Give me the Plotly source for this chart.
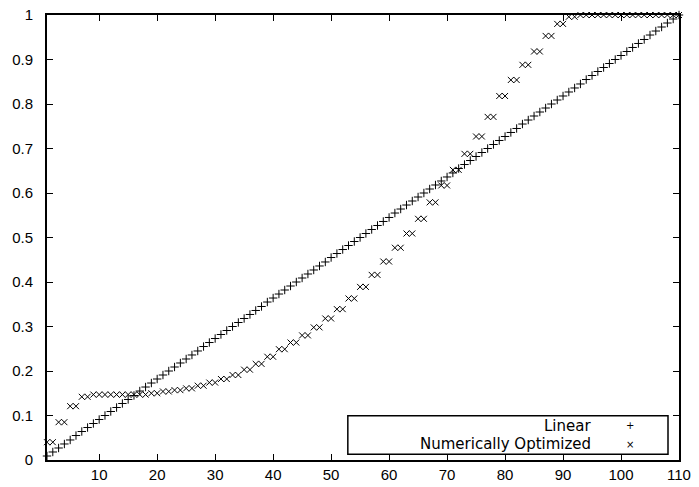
import plotly.graph_objects as go

x_values = list(range(1, 111))

linear_values = [
    0.009, 0.018, 0.027, 0.036, 0.045, 0.055, 0.064, 0.073, 0.082, 0.091,
    0.100, 0.109, 0.118, 0.127, 0.136, 0.145, 0.155, 0.164, 0.173, 0.182,
    0.191, 0.200, 0.209, 0.218, 0.227, 0.236, 0.245, 0.255, 0.264, 0.273,
    0.282, 0.291, 0.300, 0.309, 0.318, 0.327, 0.336, 0.345, 0.355, 0.364,
    0.373, 0.382, 0.391, 0.400, 0.409, 0.418, 0.427, 0.436, 0.445, 0.455,
    0.464, 0.473, 0.482, 0.491, 0.500, 0.509, 0.518, 0.527, 0.536, 0.545,
    0.555, 0.564, 0.573, 0.582, 0.591, 0.600, 0.609, 0.618, 0.627, 0.636,
    0.645, 0.655, 0.664, 0.673, 0.682, 0.691, 0.700, 0.709, 0.718, 0.727,
    0.736, 0.745, 0.755, 0.764, 0.773, 0.782, 0.791, 0.800, 0.809, 0.818,
    0.827, 0.836, 0.845, 0.855, 0.864, 0.873, 0.882, 0.891, 0.900, 0.909,
    0.918, 0.927, 0.936, 0.945, 0.955, 0.964, 0.973, 0.982, 0.991, 1.000,
]

optimized_values = [
    0.040, 0.040, 0.085, 0.085, 0.121, 0.121, 0.142, 0.142, 0.147, 0.147,
    0.147, 0.147, 0.147, 0.147, 0.147, 0.147, 0.147, 0.147, 0.150, 0.150,
    0.154, 0.154, 0.157, 0.157, 0.161, 0.161, 0.167, 0.167, 0.174, 0.174,
    0.182, 0.182, 0.191, 0.191, 0.203, 0.203, 0.216, 0.216, 0.232, 0.232,
    0.249, 0.249, 0.264, 0.264, 0.280, 0.280, 0.298, 0.298, 0.318, 0.318,
    0.339, 0.339, 0.363, 0.363, 0.389, 0.389, 0.416, 0.416, 0.446, 0.446,
    0.477, 0.477, 0.509, 0.509, 0.542, 0.542, 0.579, 0.579, 0.617, 0.617,
    0.652, 0.652, 0.688, 0.688, 0.727, 0.727, 0.771, 0.771, 0.818, 0.818,
    0.854, 0.854, 0.888, 0.888, 0.918, 0.918, 0.953, 0.953, 0.980, 0.980,
    0.996, 0.996, 1.000, 1.000, 1.000, 1.000, 1.000, 1.000, 1.000, 1.000,
    1.000, 1.000, 1.000, 1.000, 1.000, 1.000, 1.000, 1.000, 1.000, 1.000,
]

x_tick_values = [10, 20, 30, 40, 50, 60, 70, 80, 90, 100, 110]
y_tick_values = [0, 0.1, 0.2, 0.3, 0.4, 0.5, 0.6, 0.7, 0.8, 0.9, 1]
y_tick_labels = ["0", "0.1", "0.2", "0.3", "0.4", "0.5", "0.6", "0.7", "0.8", "0.9", "1"]
series_names = ["Linear", "Numerically Optimized"]

TICK_FONT = dict(family="Liberation Sans", size=15, color="black")
KEY_FONT = dict(family="DejaVu Sans", size=15, color="black")

fig = go.Figure()
fig.add_trace(go.Scatter(
    x=x_values, y=linear_values, mode="markers", name=series_names[0],
    marker=dict(symbol="cross-thin", size=6, color="black",
                line=dict(width=1, color="black")),
    cliponaxis=False, showlegend=False,
))
fig.add_trace(go.Scatter(
    x=x_values, y=optimized_values, mode="markers", name=series_names[1],
    marker=dict(symbol="x-thin", size=6, color="black",
                line=dict(width=1, color="black")),
    cliponaxis=False, showlegend=False,
))

axis_common = dict(
    showline=True, linewidth=2, linecolor="black", mirror="allticks",
    ticks="inside", ticklen=6, tickwidth=1, tickcolor="black",
    showgrid=False, zeroline=False, tickfont=TICK_FONT, automargin=False,
)

fig.update_layout(
    width=699, height=487,
    margin=dict(l=47, r=20, t=15, b=27),
    paper_bgcolor="white", plot_bgcolor="white",
    xaxis=dict(range=[1, 110], tickvals=x_tick_values, **axis_common),
    yaxis=dict(range=[0, 1], tickvals=y_tick_values, ticktext=y_tick_labels,
               ticklabelstandoff=9, **axis_common),
)

# gnuplot-style key: box with right-aligned text and symbol on the right
fig.add_shape(type="rect", xref="paper", yref="paper",
              x0=0.476, x1=0.9826, y0=0.0128, y1=0.0996,
              line=dict(color="black", width=1.5), fillcolor="white", layer="below")
key_rows = [0.0765, 0.0355]
key_symbols = ["+", "×"]
for name, yy, sym in zip(series_names, key_rows, key_symbols):
    fig.add_annotation(xref="paper", yref="paper", x=0.8623, y=yy, text=name,
                       showarrow=False, xanchor="right", yanchor="middle",
                       borderpad=0, font=KEY_FONT)
    fig.add_annotation(xref="paper", yref="paper", x=0.9225, y=yy, text=sym,
                       showarrow=False, xanchor="center", yanchor="middle",
                       borderpad=0, font=dict(family="DejaVu Sans", size=10, color="black"))

fig.write_html(
    "out.html",
    config={"displayModeBar": False},
    post_script="document.body.style.margin='0';document.body.style.padding='0';",
)
